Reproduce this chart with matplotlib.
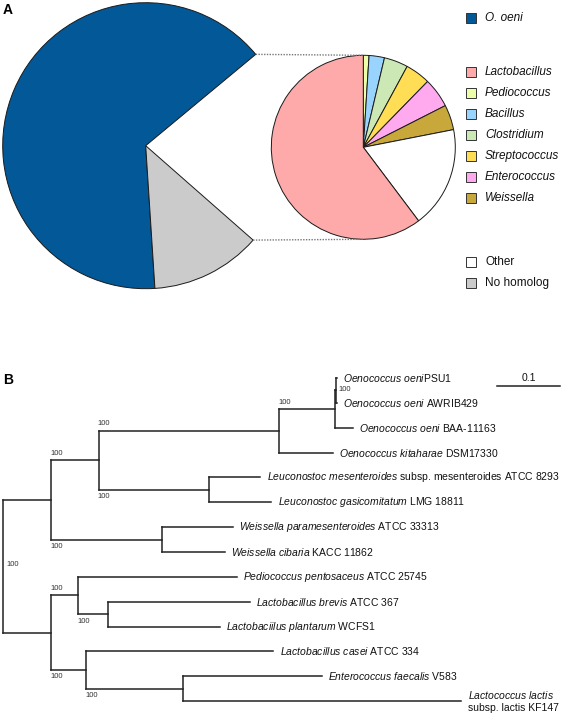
import matplotlib
matplotlib.use("Agg")
import matplotlib.pyplot as plt
import numpy as np
from matplotlib.patches import Rectangle

plt.rcParams["font.family"] = "Liberation Sans"
plt.rcParams["mathtext.fontset"] = "custom"
plt.rcParams["mathtext.rm"] = "Liberation Sans"
plt.rcParams["mathtext.it"] = "Liberation Sans:italic"

# ---- panel A: share of genes (percent)
main_labels = ["O. oeni", "No homolog"]
main_values = [65.0, 12.5]
other_share = 22.5  # wedge that is broken out into the second pie

genus_labels = ["Lactobacillus", "Pediococcus", "Bacillus", "Clostridium",
                "Streptococcus", "Enterococcus", "Weissella", "Other"]
genus_values = [60.2, 1.0, 2.7, 4.2, 4.4, 5.2, 4.4, 17.8]

main_colors = ["#035898", "#cbcbcb"]
genus_colors = ["#ffaaaa", "#eeffaa", "#99d4ff", "#cce8b4",
                "#ffdd55", "#ffaaee", "#c8a83a", "#ffffff"]

# ---- panel B: tree (preorder, parent index, branch length, bootstrap)
parent = [-1, 0, 1, 2, 3, 4, 5, 5, 4, 3, 2, 10, 10, 1, 13, 13,
          0, 16, 17, 17, 19, 19, 16, 22, 22, 24, 24]
branch_len = [0, 0.076, 0.076, 0.288, 0.089, 0.0016, 0.0016, 0.0016, 0.028,
              0.086, 0.176, 0.082, 0.0995, 0.1766, 0.114, 0.101,
              0.076, 0.0426, 0.2536, 0.0478, 0.227, 0.179, 0.0558, 0.299,
              0.155, 0.221, 0.444]
bootstrap = [100, None, 100, 100, 100, 100, None, None, None, None, 100,
             None, None, 100, None, None, None, 100, None, 100, None, None,
             100, None, 100, None, None]
tip_labels = [
    r"$\mathit{Oenococcus\ oeni}$PSU1",
    r"$\mathit{Oenococcus\ oeni}$ AWRIB429",
    r"$\mathit{Oenococcus\ oeni}$ BAA-11163",
    r"$\mathit{Oenococcus\ kitaharae}$ DSM17330",
    r"$\mathit{Leuconostoc\ mesenteroides}$ subsp. mesenteroides ATCC 8293",
    r"$\mathit{Leuconostoc\ gasicomitatum}$ LMG 18811",
    r"$\mathit{Weissella\ paramesenteroides}$ ATCC 33313",
    r"$\mathit{Weissella\ cibaria}$ KACC 11862",
    r"$\mathit{Pediococcus\ pentosaceus}$ ATCC 25745",
    r"$\mathit{Lactobacillus\ brevis}$ ATCC 367",
    r"$\mathit{Lactobaciilus\ plantarum}$ WCFS1",
    r"$\mathit{Lactobacillus\ casei}$ ATCC 334",
    r"$\mathit{Enterococcus\ faecalis}$ V583",
    "$\\mathit{Lactococcus\\ lactis}$\nsubsp. lactis KF147",
]
scale_len = 0.1

fig = plt.figure(figsize=(5.63, 7.15), dpi=100)
edge = dict(edgecolor="#1a1a1a", linewidth=0.7)

# ---------------- A
axA = fig.add_axes([0, 1 - 300 / 715, 1, 300 / 715])
big_c, big_r = (145.7, 154.3), 143
small_c, small_r = (363.3, 152.7), 92
start = 39.7

wedges, _ = axA.pie(main_values + [other_share],
                    colors=main_colors + ["none"], startangle=start,
                    center=big_c, radius=big_r, wedgeprops=edge)
wedges[-1].set_visible(False)

order = np.roll(np.arange(len(genus_values)), -1)
axA.pie(np.array(genus_values)[order],
        colors=[genus_colors[i] for i in order],
        startangle=90, counterclock=False,
        center=small_c, radius=small_r, wedgeprops=edge)

# connectors from the broken-out wedge to the second pie
total = sum(main_values) + other_share
a_top = np.deg2rad(start)
a_bot = np.deg2rad(start + 360 * sum(main_values) / total)
for a, sgn in [(a_top, 1), (a_bot, -1)]:
    axA.plot([big_c[0] + big_r * np.cos(a), small_c[0]],
             [big_c[1] + big_r * np.sin(a), small_c[1] + sgn * small_r],
             color="#777777", lw=1, ls=(0, (1, 1)))

# legend
leg_items = [(main_labels[0], main_colors[0], True, 18)]
for k in range(7):
    leg_items.append((genus_labels[k], genus_colors[k], True, 72 + 21 * k))
leg_items.append((genus_labels[7], genus_colors[7], False, 262))
leg_items.append((main_labels[1], main_colors[1], False, 283))
for lab, col, ital, py in leg_items:
    axA.add_patch(Rectangle((466, 300 - py - 5), 10, 10, facecolor=col,
                            edgecolor="#333333", lw=0.7))
    axA.text(485, 300 - py, lab, fontsize=8.5, va="center", ha="left",
             style="italic" if ital else "normal", color="#111111")

axA.set_xlim(0, 563)
axA.set_ylim(0, 300)
axA.set_aspect("equal")
axA.axis("off")

fig.text(3 / 563, 1 - 10 / 715, "A", fontsize=10, fontweight="bold",
         va="center", ha="left")
fig.text(3 / 563, 1 - 380 / 715, "B", fontsize=10, fontweight="bold",
         va="center", ha="left")

# ---------------- B
axB = fig.add_axes([0, 0, 1, 355 / 715])
n = len(parent)
children = [[j for j in range(n) if parent[j] == i] for i in range(n)]
x = np.zeros(n)
for i in range(1, n):
    x[i] = x[parent[i]] + branch_len[i]
y = np.zeros(n)
leaf = 0
for i in range(n):
    if not children[i]:
        y[i] = leaf
        leaf += 1
for i in reversed(range(n)):
    if children[i]:
        y[i] = (y[children[i][0]] + y[children[i][-1]]) / 2

lc = "#222222"
for i in range(n):
    if i > 0:
        axB.plot([x[parent[i]], x[i]], [y[i], y[i]], color=lc, lw=1.1,
                 solid_capstyle="projecting")
    if children[i]:
        axB.plot([x[i], x[i]], [y[children[i][0]], y[children[i][-1]]],
                 color=lc, lw=1.1, solid_capstyle="projecting")

for i, b in enumerate(bootstrap):
    if b is None:
        continue
    if i == 0 or branch_len[i] < 0.005:
        xy, off = (x[i], y[i]), (2, 1)
    elif children[parent[i]][0] == i:
        xy, off = (x[parent[i]], y[i]), (-0.5, 5)
    else:
        xy, off = (x[parent[i]], y[i]), (-0.5, -5)
    axB.annotate(str(b), xy, xytext=off, textcoords="offset points",
                 fontsize=5.5, ha="left", va="center", color="#333333")

tips = [i for i in range(n) if not children[i]]
for i, lab in zip(tips, tip_labels):
    axB.annotate(lab, (x[i], y[i]), xytext=(4.5, 0),
                 textcoords="offset points", fontsize=7.5, ha="left",
                 va="center", color="#111111")

sx0 = 0.788
axB.plot([sx0, sx0 + scale_len], [0.32, 0.32], color=lc, lw=1.1)
axB.annotate(f"{scale_len:g}", (sx0 + scale_len / 2, 0.32), xytext=(0, 6),
             textcoords="offset points", fontsize=7.5, ha="center",
             va="center", color="#111111")

axB.set_xlim(-0.0053, 0.8927)
axB.set_ylim(13.56, -0.724)
axB.axis("off")

fig.savefig("out.png", dpi=100)
